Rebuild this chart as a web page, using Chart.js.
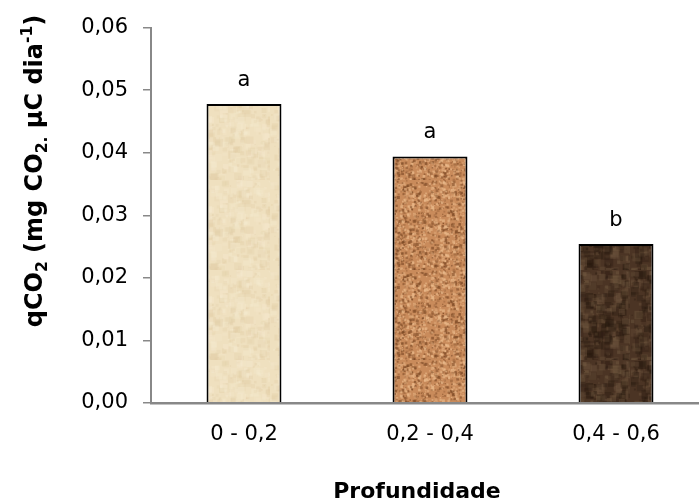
<!DOCTYPE html>
<html>
<head>
<meta charset="utf-8">
<script src="https://cdn.jsdelivr.net/npm/chart.js@4.4.1/dist/chart.umd.min.js"></script>
<style>
  body { margin: 0; background: #fff; }
  #wrap { width: 699px; height: 500px; overflow: hidden; }
</style>
</head>
<body>
<div id="wrap"><canvas id="chart" width="720" height="500"></canvas></div>
<script>
// データ
const depths = ['0 - 0,2', '0,2 - 0,4', '0,4 - 0,6'];
const qco2 = [0.0478, 0.0394, 0.0254];
const letters = ['a', 'a', 'b'];
const yTickLabels = ['0,00', '0,01', '0,02', '0,03', '0,04', '0,05', '0,06'];

const FONT = '"DejaVu Sans", sans-serif';

// 乱数（テクスチャ用、固定シード）
function mulberry32(a) {
  return function () {
    a |= 0; a = a + 0x6D2B79F5 | 0;
    let t = Math.imul(a ^ a >>> 15, 1 | a);
    t = t + Math.imul(t ^ t >>> 7, 61 | t) ^ t;
    return ((t ^ t >>> 14) >>> 0) / 4294967296;
  };
}

// 土のテクスチャを作る
function soilTexture(base, dark, light, seed, n, maxSize, alpha) {
  const c = document.createElement('canvas');
  c.width = 90; c.height = 90;
  const g = c.getContext('2d');
  g.fillStyle = base;
  g.fillRect(0, 0, 90, 90);
  const rnd = mulberry32(seed);
  for (let i = 0; i < n; i++) {
    g.fillStyle = rnd() < 0.5 ? dark : light;
    g.globalAlpha = alpha * (0.4 + rnd() * 0.6);
    const s = 1 + rnd() * maxSize;
    g.fillRect(rnd() * 90, rnd() * 90, s, s);
  }
  return g.createPattern(c, 'repeat');
}

const fills = [
  soilTexture('#efe0bf', '#dfc9a0', '#f7ecd3', 11, 400, 7, 0.35),
  soilTexture('#c98b5b', '#7e4b27', '#ebbb8c', 23, 1600, 2, 0.7),
  soilTexture('#4b3424', '#26180e', '#6f573f', 37, 500, 8, 0.45)
];

// リッチテキスト（下付き・上付き）
function drawRich(ctx, parts, size) {
  const widths = parts.map(p => {
    ctx.font = 'bold ' + (p[1] ? size * 0.65 : size) + 'px ' + FONT;
    return ctx.measureText(p[0]).width;
  });
  let x = -widths.reduce((s, w) => s + w, 0) / 2;
  parts.forEach((p, i) => {
    ctx.font = 'bold ' + (p[1] ? size * 0.65 : size) + 'px ' + FONT;
    const dy = p[1] === 1 ? size * 0.22 : p[1] === 2 ? -size * 0.4 : 0;
    ctx.fillText(p[0], x, dy);
    x += widths[i];
  });
}

// 文字（有意差・軸タイトル）
const labelsPlugin = {
  id: 'labels',
  afterDraw(chart) {
    const ctx = chart.ctx;
    ctx.save();
    ctx.fillStyle = '#000';
    ctx.textAlign = 'center';
    ctx.textBaseline = 'alphabetic';
    ctx.font = '21px ' + FONT;
    chart.getDatasetMeta(0).data.forEach((bar, i) => {
      ctx.fillText(letters[i], bar.x, bar.y - 18);
    });
    ctx.font = 'bold 22px ' + FONT;
    ctx.fillText('Profundidade', 417, 498);
    ctx.textAlign = 'left';
    ctx.translate(42, 171);
    ctx.rotate(-Math.PI / 2);
    drawRich(ctx, [['qCO', 0], ['2', 1], [' (mg CO', 0], ['2.', 1], [' \u00B5C dia', 0], ['-1', 2], [')', 0]], 24);
    ctx.restore();
  }
};

new Chart(document.getElementById('chart'), {
  type: 'bar',
  data: {
    labels: depths,
    datasets: [{
      data: qco2,
      backgroundColor: fills,
      borderColor: '#000',
      borderWidth: 2,
      categoryPercentage: 1,
      barPercentage: 0.403
    }]
  },
  options: {
    responsive: false,
    animation: false,
    layout: { padding: { left: 0, right: 11, top: 25, bottom: 0 } },
    plugins: { legend: { display: false }, tooltip: { enabled: false } },
    scales: {
      x: {
        afterFit: s => { s.height = 97; },
        grid: { display: false, drawTicks: false },
        border: { color: '#888', width: 2.5, z: 1 },
        ticks: { color: '#000', font: { family: FONT, size: 21 }, padding: 19, maxRotation: 0 }
      },
      y: {
        min: 0,
        max: 0.06,
        afterFit: s => { s.width = 151; },
        grid: { drawOnChartArea: false, drawTicks: true, tickLength: 8, color: '#888', lineWidth: 1.5 },
        border: { color: '#888', width: 2, z: 1 },
        ticks: {
          stepSize: 0.01,
          color: '#000',
          padding: 15,
          font: { family: FONT, size: 21 },
          callback: (v, i) => yTickLabels[i]
        }
      }
    }
  },
  plugins: [labelsPlugin]
});
</script>
</body>
</html>
